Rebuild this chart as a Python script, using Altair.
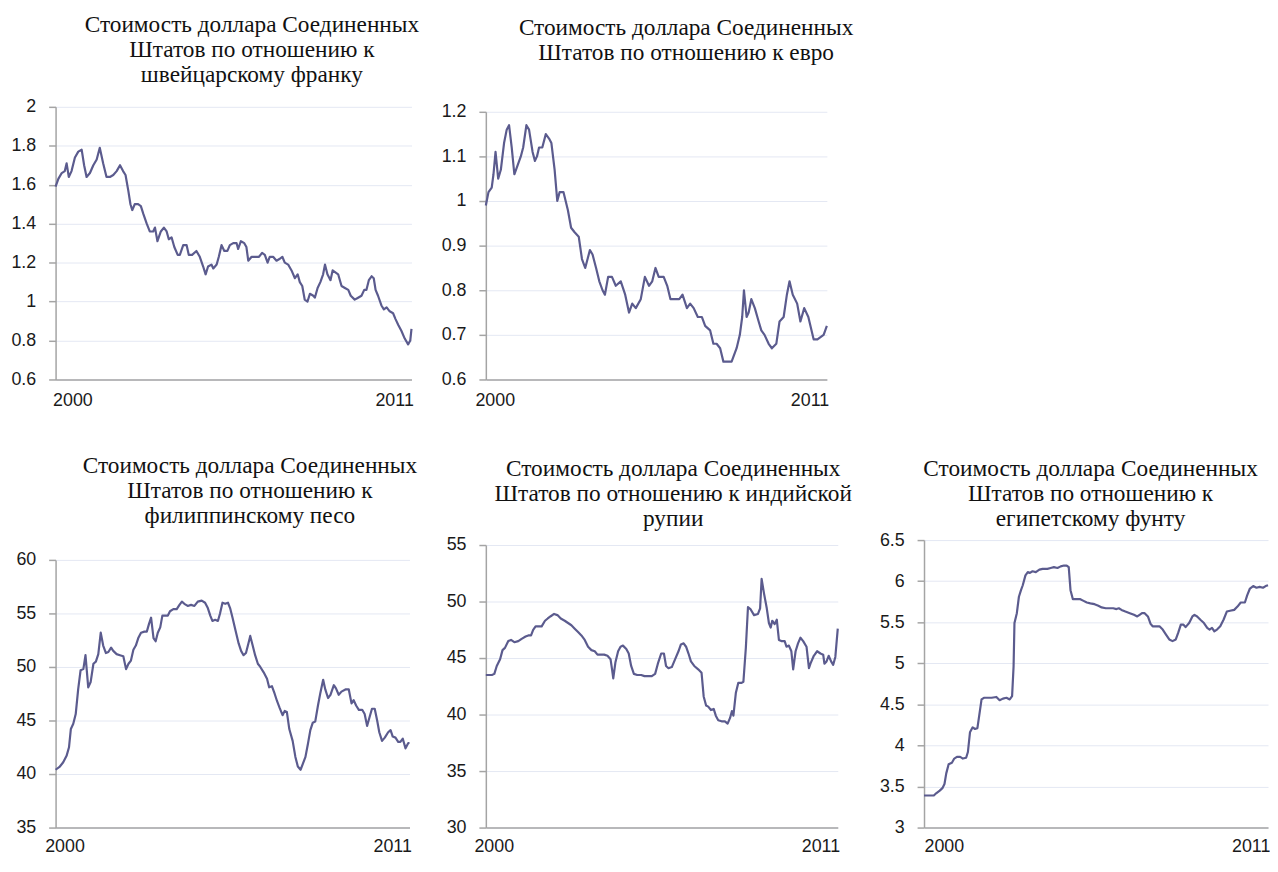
import altair as alt
import pandas as pd

# ---------------- data ----------------
X_DOMAIN = [2000.0, 2011.6]
X_LABEL_VALUES = [2000.0, 2011.6]

TITLE_HEAD = "Стоимость доллара Соединенных"

chf_title = [TITLE_HEAD, "Штатов по отношению к", "швейцарскому франку"]
chf_ticks = [0.6, 0.8, 1.0, 1.2, 1.4, 1.6, 1.8, 2.0]
chf_years = [2000.00, 2000.09, 2000.20, 2000.30, 2000.36, 2000.43, 2000.52, 2000.63, 2000.74, 2000.85,
             2000.93, 2001.01, 2001.12, 2001.23, 2001.34, 2001.44, 2001.55, 2001.66, 2001.77, 2001.88,
             2001.99, 2002.10, 2002.20, 2002.28, 2002.37, 2002.44, 2002.50, 2002.58, 2002.69, 2002.78,
             2002.86, 2002.97, 2003.07, 2003.18, 2003.24, 2003.32, 2003.43, 2003.53, 2003.62, 2003.69,
             2003.78, 2003.87, 2003.98, 2004.05, 2004.16, 2004.27, 2004.34, 2004.45, 2004.59, 2004.70,
             2004.81, 2004.89, 2004.97, 2005.08, 2005.14, 2005.25, 2005.32, 2005.41, 2005.50, 2005.60,
             2005.68, 2005.79, 2005.90, 2005.95, 2006.04, 2006.15, 2006.22, 2006.28, 2006.39, 2006.52,
             2006.63, 2006.73, 2006.82, 2006.91, 2006.98, 2007.09, 2007.20, 2007.31, 2007.39, 2007.47,
             2007.58, 2007.69, 2007.80, 2007.89, 2007.96, 2008.04, 2008.12, 2008.21, 2008.29, 2008.40,
             2008.45, 2008.54, 2008.63, 2008.72, 2008.78, 2008.86, 2008.96, 2009.03, 2009.12, 2009.21,
             2009.32, 2009.43, 2009.54, 2009.62, 2009.75, 2009.86, 2009.97, 2010.06, 2010.13, 2010.21,
             2010.30, 2010.37, 2010.43, 2010.51, 2010.62, 2010.70, 2010.79, 2010.89, 2011.00, 2011.08,
             2011.17, 2011.27, 2011.38, 2011.49, 2011.56, 2011.60]
chf_values = [1.59, 1.63, 1.66, 1.67, 1.71, 1.64, 1.67, 1.74, 1.77, 1.78,
              1.70, 1.64, 1.66, 1.70, 1.73, 1.79, 1.71, 1.64, 1.64, 1.65,
              1.67, 1.70, 1.67, 1.65, 1.57, 1.50, 1.47, 1.50, 1.50, 1.49,
              1.45, 1.40, 1.36, 1.36, 1.38, 1.31, 1.36, 1.38, 1.36, 1.32,
              1.33, 1.28, 1.24, 1.24, 1.29, 1.29, 1.24, 1.24, 1.26, 1.23,
              1.18, 1.14, 1.18, 1.19, 1.17, 1.19, 1.23, 1.29, 1.26, 1.26,
              1.29, 1.30, 1.30, 1.27, 1.31, 1.30, 1.28, 1.21, 1.23, 1.23,
              1.23, 1.25, 1.24, 1.20, 1.23, 1.23, 1.21, 1.22, 1.23, 1.20,
              1.19, 1.16, 1.12, 1.14, 1.10, 1.08, 1.01, 1.00, 1.04, 1.03,
              1.02, 1.07, 1.10, 1.14, 1.19, 1.14, 1.11, 1.16, 1.15, 1.14,
              1.08, 1.07, 1.06, 1.03, 1.01, 1.02, 1.03, 1.06, 1.06, 1.11,
              1.13, 1.12, 1.06, 1.03, 0.98, 0.96, 0.97, 0.95, 0.94, 0.91,
              0.88, 0.85, 0.81, 0.78, 0.80, 0.86]

eur_title = [TITLE_HEAD, "Штатов по отношению к евро"]
eur_ticks = [0.6, 0.7, 0.8, 0.9, 1.0, 1.1, 1.2]
eur_years = [2000.00, 2000.09, 2000.20, 2000.26, 2000.33, 2000.42, 2000.51, 2000.62, 2000.71, 2000.79,
             2000.88, 2000.97, 2001.08, 2001.19, 2001.27, 2001.38, 2001.47, 2001.59, 2001.67, 2001.74,
             2001.81, 2001.92, 2002.04, 2002.15, 2002.23, 2002.34, 2002.43, 2002.51, 2002.64, 2002.79,
             2002.90, 2003.02, 2003.16, 2003.27, 2003.38, 2003.54, 2003.63, 2003.75, 2003.86, 2003.97,
             2004.05, 2004.16, 2004.29, 2004.42, 2004.59, 2004.74, 2004.87, 2004.98, 2005.10, 2005.27,
             2005.41, 2005.55, 2005.66, 2005.77, 2005.88, 2006.05, 2006.17, 2006.28, 2006.45, 2006.58,
             2006.69, 2006.84, 2006.95, 2007.07, 2007.21, 2007.35, 2007.46, 2007.63, 2007.74, 2007.85,
             2007.97, 2008.08, 2008.19, 2008.36, 2008.53, 2008.64, 2008.72, 2008.78, 2008.87, 2008.94,
             2009.03, 2009.15, 2009.28, 2009.37, 2009.48, 2009.62, 2009.73, 2009.88, 2009.99, 2010.13,
             2010.24, 2010.33, 2010.44, 2010.59, 2010.70, 2010.83, 2010.97, 2011.15, 2011.28, 2011.49,
             2011.60]
eur_values = [0.99, 1.02, 1.03, 1.06, 1.11, 1.05, 1.07, 1.13, 1.16, 1.17,
              1.12, 1.06, 1.08, 1.10, 1.12, 1.17, 1.16, 1.11, 1.09, 1.10,
              1.12, 1.12, 1.15, 1.14, 1.13, 1.07, 1.00, 1.02, 1.02, 0.98,
              0.94, 0.93, 0.92, 0.87, 0.85, 0.89, 0.88, 0.85, 0.82, 0.80,
              0.79, 0.83, 0.83, 0.81, 0.82, 0.79, 0.75, 0.77, 0.76, 0.78,
              0.83, 0.81, 0.82, 0.85, 0.83, 0.83, 0.81, 0.78, 0.78, 0.78,
              0.79, 0.76, 0.77, 0.76, 0.74, 0.74, 0.72, 0.71, 0.68, 0.68,
              0.67, 0.64, 0.64, 0.64, 0.67, 0.70, 0.74, 0.80, 0.74, 0.75,
              0.78, 0.76, 0.73, 0.71, 0.70, 0.68, 0.67, 0.68, 0.73, 0.74,
              0.79, 0.82, 0.79, 0.77, 0.73, 0.76, 0.74, 0.69, 0.69, 0.70,
              0.72]

php_title = [TITLE_HEAD, "Штатов по отношению к", "филиппинскому песо"]
php_ticks = [35, 40, 45, 50, 55, 60]
php_years = [2000.00, 2000.14, 2000.25, 2000.36, 2000.44, 2000.50, 2000.58, 2000.66, 2000.74, 2000.82,
             2000.91, 2000.98, 2001.07, 2001.15, 2001.24, 2001.32, 2001.40, 2001.48, 2001.56, 2001.65,
             2001.73, 2001.82, 2001.89, 2002.00, 2002.11, 2002.22, 2002.31, 2002.39, 2002.47, 2002.55,
             2002.63, 2002.71, 2002.80, 2002.91, 2002.99, 2003.06, 2003.13, 2003.21, 2003.28, 2003.35,
             2003.43, 2003.50, 2003.59, 2003.68, 2003.75, 2003.86, 2003.97, 2004.06, 2004.14, 2004.22,
             2004.33, 2004.44, 2004.55, 2004.66, 2004.79, 2004.90, 2004.99, 2005.07, 2005.14, 2005.23,
             2005.32, 2005.39, 2005.47, 2005.56, 2005.65, 2005.72, 2005.80, 2005.89, 2006.00, 2006.08,
             2006.16, 2006.24, 2006.33, 2006.38, 2006.46, 2006.54, 2006.63, 2006.71, 2006.82, 2006.93,
             2007.00, 2007.09, 2007.18, 2007.26, 2007.34, 2007.44, 2007.51, 2007.58, 2007.66, 2007.77,
             2007.86, 2007.94, 2008.03, 2008.11, 2008.19, 2008.27, 2008.35, 2008.43, 2008.51, 2008.60,
             2008.68, 2008.77, 2008.84, 2008.93, 2009.01, 2009.12, 2009.19, 2009.28, 2009.37, 2009.50,
             2009.61, 2009.70, 2009.77, 2009.85, 2009.94, 2010.05, 2010.13, 2010.21, 2010.29, 2010.37,
             2010.46, 2010.54, 2010.61, 2010.70, 2010.79, 2010.90, 2010.98, 2011.05, 2011.14, 2011.23,
             2011.30, 2011.38, 2011.47, 2011.56, 2011.60]
php_values = [40.4, 40.7, 41.1, 41.7, 42.5, 44.2, 44.7, 45.6, 47.9, 49.7,
              49.8, 51.1, 48.1, 48.6, 50.3, 50.5, 51.2, 53.2, 52.0, 51.3,
              51.4, 51.8, 51.5, 51.2, 51.1, 51.0, 49.8, 50.3, 50.6, 51.6,
              52.0, 52.7, 53.2, 53.3, 53.3, 54.0, 54.6, 52.7, 52.4, 53.2,
              53.7, 54.8, 54.8, 54.8, 55.2, 55.4, 55.4, 55.8, 56.1, 55.9,
              55.7, 55.8, 55.7, 56.1, 56.2, 56.0, 55.5, 54.8, 54.3, 54.4,
              54.3, 55.0, 56.0, 55.9, 56.0, 55.5, 54.6, 53.5, 52.2, 51.5,
              51.1, 51.3, 52.3, 52.9, 52.0, 51.1, 50.3, 50.0, 49.5, 48.9,
              48.1, 48.2, 47.5, 46.8, 46.2, 45.5, 45.9, 45.8, 44.2, 43.1,
              41.6, 40.7, 40.4, 41.0, 41.6, 42.8, 44.1, 44.8, 44.9, 46.4,
              47.6, 48.8, 47.9, 47.1, 47.4, 48.3, 48.0, 47.4, 47.7, 47.9,
              47.9, 46.6, 46.9, 46.4, 46.0, 46.0, 45.6, 44.5, 45.3, 46.1,
              46.1, 45.0, 43.9, 43.1, 43.4, 43.9, 44.1, 43.5, 43.4, 43.0,
              43.0, 43.3, 42.4, 42.9, 42.9]

inr_title = [TITLE_HEAD, "Штатов по отношению к индийской", "рупии"]
inr_ticks = [30, 35, 40, 45, 50, 55]
inr_years = [2000.00, 2000.20, 2000.28, 2000.36, 2000.47, 2000.55, 2000.63, 2000.74, 2000.83, 2000.94,
             2001.07, 2001.18, 2001.31, 2001.40, 2001.49, 2001.56, 2001.64, 2001.73, 2001.84, 2001.95,
             2002.04, 2002.14, 2002.25, 2002.36, 2002.47, 2002.60, 2002.71, 2002.82, 2002.93, 2003.04,
             2003.15, 2003.26, 2003.37, 2003.48, 2003.59, 2003.68, 2003.79, 2003.90, 2004.01, 2004.11,
             2004.16, 2004.20, 2004.27, 2004.36, 2004.44, 2004.52, 2004.63, 2004.71, 2004.79, 2004.88,
             2004.99, 2005.12, 2005.23, 2005.36, 2005.47, 2005.58, 2005.67, 2005.78, 2005.87, 2005.94,
             2006.02, 2006.13, 2006.24, 2006.35, 2006.43, 2006.52, 2006.60, 2006.68, 2006.76, 2006.87,
             2007.00, 2007.11, 2007.18, 2007.26, 2007.33, 2007.42, 2007.51, 2007.58, 2007.66, 2007.77,
             2007.88, 2007.97, 2008.05, 2008.11, 2008.16, 2008.24, 2008.32, 2008.43, 2008.49, 2008.57,
             2008.64, 2008.73, 2008.84, 2008.97, 2009.04, 2009.09, 2009.17, 2009.26, 2009.33, 2009.39,
             2009.44, 2009.52, 2009.59, 2009.66, 2009.74, 2009.85, 2009.91, 2009.99, 2010.07, 2010.13,
             2010.21, 2010.29, 2010.37, 2010.46, 2010.57, 2010.65, 2010.70, 2010.81, 2010.92, 2011.03,
             2011.12, 2011.16, 2011.23, 2011.30, 2011.38, 2011.45, 2011.52, 2011.60]
inr_values = [43.5, 43.5, 43.6, 44.3, 44.9, 45.7, 45.9, 46.5, 46.6, 46.4,
              46.5, 46.7, 46.9, 47.0, 47.0, 47.5, 47.8, 47.8, 47.8, 48.3,
              48.5, 48.7, 48.9, 48.8, 48.5, 48.3, 48.1, 47.9, 47.6, 47.3,
              47.0, 46.6, 46.0, 45.7, 45.6, 45.3, 45.3, 45.3, 45.2, 44.9,
              44.0, 43.2, 44.6, 45.6, 46.0, 46.1, 45.8, 45.4, 44.3, 43.6,
              43.5, 43.5, 43.4, 43.4, 43.4, 43.6, 44.5, 45.4, 45.4, 44.3,
              44.1, 44.2, 44.9, 45.6, 46.2, 46.3, 46.0, 45.4, 44.7, 44.3,
              44.0, 43.7, 41.6, 40.8, 40.7, 40.4, 40.5, 39.9, 39.5, 39.4,
              39.4, 39.2, 39.7, 40.3, 39.9, 41.9, 42.8, 42.8, 42.9, 45.9,
              49.5, 49.3, 48.8, 48.9, 49.4, 52.0, 50.7, 49.4, 48.1, 47.7,
              48.3, 48.0, 48.4, 46.6, 46.5, 46.5, 46.0, 46.1, 45.6, 44.0,
              45.6, 46.3, 46.8, 46.5, 46.0, 44.1, 44.5, 45.2, 45.6, 45.4,
              45.3, 44.5, 44.7, 45.2, 44.7, 44.4, 45.1, 47.6]

egp_title = [TITLE_HEAD, "Штатов по отношению к", "египетскому фунту"]
egp_ticks = [3.0, 3.5, 4.0, 4.5, 5.0, 5.5, 6.0, 6.5]
egp_years = [2000.00, 2000.33, 2000.42, 2000.53, 2000.62, 2000.69, 2000.75, 2000.83, 2000.94, 2001.02,
             2001.11, 2001.22, 2001.31, 2001.42, 2001.48, 2001.55, 2001.64, 2001.72, 2001.80, 2001.86,
             2001.94, 2002.02, 2002.13, 2002.28, 2002.44, 2002.55, 2002.66, 2002.78, 2002.89, 2002.97,
             2003.02, 2003.05, 2003.13, 2003.20, 2003.27, 2003.33, 2003.42, 2003.50, 2003.57, 2003.66,
             2003.77, 2003.89, 2004.00, 2004.16, 2004.27, 2004.38, 2004.50, 2004.61, 2004.72, 2004.81,
             2004.88, 2004.94, 2005.02, 2005.11, 2005.27, 2005.38, 2005.49, 2005.61, 2005.75, 2005.88,
             2005.99, 2006.13, 2006.27, 2006.38, 2006.49, 2006.57, 2006.66, 2006.79, 2006.94, 2007.08,
             2007.19, 2007.27, 2007.35, 2007.44, 2007.55, 2007.64, 2007.71, 2007.83, 2007.94, 2008.05,
             2008.16, 2008.27, 2008.38, 2008.49, 2008.57, 2008.66, 2008.75, 2008.82, 2008.94, 2009.05,
             2009.12, 2009.21, 2009.32, 2009.44, 2009.55, 2009.63, 2009.71, 2009.79, 2009.88, 2009.99,
             2010.10, 2010.21, 2010.32, 2010.46, 2010.57, 2010.68, 2010.82, 2010.90, 2010.99, 2011.10,
             2011.21, 2011.32, 2011.43, 2011.52, 2011.60]
egp_values = [3.39, 3.39, 3.42, 3.45, 3.48, 3.53, 3.66, 3.77, 3.79, 3.84,
              3.86, 3.86, 3.84, 3.85, 3.92, 4.16, 4.22, 4.20, 4.21, 4.36,
              4.56, 4.58, 4.58, 4.58, 4.59, 4.55, 4.57, 4.58, 4.56, 4.60,
              4.96, 5.49, 5.61, 5.81, 5.89, 5.95, 6.07, 6.11, 6.10, 6.12,
              6.11, 6.14, 6.15, 6.15, 6.16, 6.17, 6.16, 6.18, 6.19, 6.19,
              6.17, 5.89, 5.78, 5.78, 5.78, 5.76, 5.74, 5.73, 5.72, 5.70,
              5.68, 5.67, 5.67, 5.67, 5.66, 5.67, 5.65, 5.63, 5.61, 5.59,
              5.57, 5.59, 5.61, 5.61, 5.57, 5.48, 5.45, 5.45, 5.45, 5.41,
              5.35, 5.29, 5.27, 5.29, 5.37, 5.47, 5.47, 5.44, 5.49, 5.57,
              5.59, 5.57, 5.53, 5.49, 5.43, 5.41, 5.43, 5.39, 5.41, 5.45,
              5.53, 5.63, 5.64, 5.65, 5.69, 5.74, 5.74, 5.83, 5.91, 5.94,
              5.92, 5.93, 5.92, 5.94, 5.95]

# ---------------- styling ----------------
LINE_COLOR = "#5b5b8e"
AXIS_GRAY = "#a4a4a4"
GRID_COLOR = "#e4e8f3"


def panel(years, values, title_lines, y_ticks, view_w, plot_w, height, y_top,
          title_dx, title_offset, first_label_shift, x_label_pad, last_label_shift=-17.5):
    df = pd.DataFrame({"год": years, "курс": values})
    x = alt.X(
        "год:Q",
        scale=alt.Scale(domain=X_DOMAIN, range=[0, plot_w], nice=False, zero=False),
        axis=alt.Axis(values=X_LABEL_VALUES,
                      labelExpr="datum.value < 2005 ? '2000' : '2011'",
                      title=None, grid=False, ticks=False,
                      labelFlush=False, labelAlign="center", labelPadding=x_label_pad,
                      labelOffset={"condition": {"test": "datum.value < 2005",
                                                 "value": first_label_shift},
                                   "value": last_label_shift}),
    )
    y = alt.Y(
        "курс:Q",
        scale=alt.Scale(domain=[y_ticks[0], y_ticks[-1]], range=[height, y_top],
                        nice=False, zero=False),
        axis=alt.Axis(values=y_ticks, format="~g", title=None, grid=True,
                      tickSize=7, labelPadding=13),
    )
    return (
        alt.Chart(df)
        .mark_line(color=LINE_COLOR, strokeWidth=2.2, strokeJoin="round")
        .encode(x=x, y=y)
        .properties(width=view_w, height=height,
                    title=alt.Title(title_lines, dx=title_dx, offset=title_offset))
    )


p_chf = panel(chf_years, chf_values, chf_title, chf_ticks, 359, 359, 275, 0, 18.5, 12, 17, 12)
p_eur = panel(eur_years, eur_values, eur_title, eur_ticks, 344, 344, 275, 5, 30, 39, 9, 12)
p_php = panel(php_years, php_values, php_title, php_ticks, 362, 357, 290, 20, 15, 13, 9, 10)
p_inr = panel(inr_years, inr_values, inr_title, inr_ticks, 370, 355, 290, 5, 4, 6, 8, 10)
p_egp = panel(egp_years, egp_values, egp_title, egp_ticks, 347, 347, 290, 0, -5.5, 1, 20, 10)

# empty third cell of the first row
blank = (
    alt.Chart(pd.DataFrame({"a": [0]}))
    .mark_point(opacity=0)
    .encode(x=alt.X("a:Q", axis=None), y=alt.Y("a:Q", axis=None))
    .properties(width=1, height=275)
)

chart = (
    alt.concat(p_chf, p_eur, blank, p_php, p_inr, p_egp, columns=3,
               spacing={"row": 162, "column": 72}, bounds="flush",
               align={"row": "each", "column": "none"})
    .properties(padding={"left": 2, "top": 1, "right": 0, "bottom": 0})
    .configure_view(stroke=None)
    .configure_axis(
        labelFont="Liberation Sans", labelFontSize=18, labelColor="#1a1a1a",
        domainColor=AXIS_GRAY, domainWidth=1.5, tickColor=AXIS_GRAY, tickWidth=1.5,
        gridColor=GRID_COLOR, gridWidth=1,
    )
    .configure_title(
        font="Liberation Serif", fontSize=23.5, fontWeight="normal", color="#111111",
        lineHeight=25, anchor="middle", frame="group",
    )
)

chart.save("out.html", embed_options={"renderer": "svg", "actions": False})
